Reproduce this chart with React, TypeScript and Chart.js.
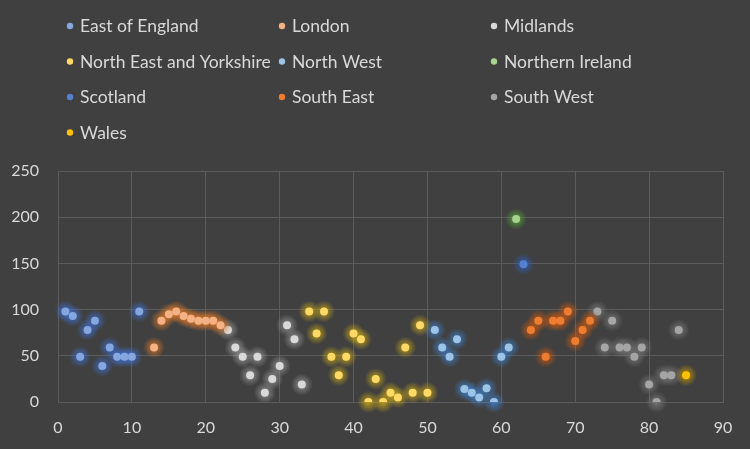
import React, { useEffect, useRef } from "react";
import { Chart, registerables } from "chart.js";

Chart.register(...registerables);

// ---- data ----
const regionNames = [
  "East of England",
  "London",
  "Midlands",
  "North East and Yorkshire",
  "North West",
  "Northern Ireland",
  "Scotland",
  "South East",
  "South West",
  "Wales",
];
const regionStartX = [1, 13, 23, 34, 51, 62, 63, 64, 73, 85];

const eastOfEngland = [98, 93, 49, 78, 88, 39, 59, 49, 49, 49, 98];
const london = [59, 88, 95, 98, 93, 90, 88, 88, 88, 83];
const midlands = [78, 59, 49, 29, 49, 10, 25, 39, 83, 68, 19];
const northEastYorkshire = [98, 74, 98, 49, 29, 49, 74, 68, 0, 25, 0, 10, 5, 59, 10, 83, 10];
const northWest = [78, 59, 49, 68, 14, 10, 5, 15, 0, 49, 59];
const northernIreland = [198];
const scotland = [149];
const southEast = [78, 88, 49, 88, 88, 98, 66, 78, 88];
const southWest = [98, 59, 88, 59, 59, 49, 59, 19, 0, 29, 29, 78];
const wales = [29];

const regionValues = [
  eastOfEngland,
  london,
  midlands,
  northEastYorkshire,
  northWest,
  northernIreland,
  scotland,
  southEast,
  southWest,
  wales,
];

const xTicks = [0, 10, 20, 30, 40, 50, 60, 70, 80, 90];
const yTicks = [0, 50, 100, 150, 200, 250];

// ---- styles ----
const regionColors = [
  "#86a6e0",
  "#f4b183",
  "#d9d9d9",
  "#ffd966",
  "#9dc3e6",
  "#a9d18e",
  "#5580d0",
  "#ed7d31",
  "#a5a5a5",
  "#ffc000",
];
const glowColors = [
  "#3f6fd0",
  "#e07a2a",
  "#9a9a9a",
  "#c8a818",
  "#3f7fc8",
  "#58a838",
  "#2f5fc0",
  "#d05a10",
  "#7a7a7a",
  "#d0a000",
];
const BG = "#404040";
const GRID = "#5c5c5c";
const TEXT = "#d9d9d9";
const FONT = "Lato, 'Liberation Sans', sans-serif";

function hexToRgba(hex: string, a: number) {
  const n = parseInt(hex.slice(1), 16);
  return `rgba(${(n >> 16) & 255},${(n >> 8) & 255},${n & 255},${a})`;
}

const glowPlugin = {
  id: "glow",
  beforeDatasetDraw(chart: any, args: any) {
    const ctx = chart.ctx;
    const meta = chart.getDatasetMeta(args.index);
    const g = glowColors[args.index];
    ctx.save();
    meta.data.forEach((el: any) => {
      const grad = ctx.createRadialGradient(el.x, el.y, 2, el.x, el.y, 11);
      grad.addColorStop(0, hexToRgba(g, 0.75));
      grad.addColorStop(0.45, hexToRgba(g, 0.4));
      grad.addColorStop(1, hexToRgba(g, 0));
      ctx.fillStyle = grad;
      ctx.beginPath();
      ctx.arc(el.x, el.y, 11, 0, Math.PI * 2);
      ctx.fill();
    });
    ctx.restore();
  },
};

const legendPlugin = {
  id: "gridLegend",
  afterDraw(chart: any) {
    const ctx = chart.ctx;
    const colX = [70, 282, 494];
    const rowY = [26, 61.5, 97, 132.5];
    ctx.save();
    ctx.font = `17.5px ${FONT}`;
    ctx.textBaseline = "middle";
    ctx.textAlign = "left";
    chart.data.datasets.forEach((ds: any, i: number) => {
      const cx = colX[i % 3];
      const cy = rowY[Math.floor(i / 3)];
      ctx.fillStyle = ds.backgroundColor;
      ctx.beginPath();
      ctx.arc(cx, cy, 3.2, 0, Math.PI * 2);
      ctx.fill();
      ctx.fillStyle = TEXT;
      ctx.fillText(ds.label, cx + 10, cy + 0.5);
    });
    ctx.restore();
  },
};

export default function App() {
  const canvasRef = useRef<HTMLCanvasElement | null>(null);

  useEffect(() => {
    const canvas = canvasRef.current;
    if (!canvas) return;
    const datasets = regionNames.map((name, i) => ({
      label: name,
      data: regionValues[i].map((v, k) => ({ x: regionStartX[i] + k, y: v })),
      backgroundColor: regionColors[i],
      borderColor: regionColors[i],
      borderWidth: 0,
      pointRadius: 4,
      pointHoverRadius: 4,
      showLine: false,
    }));
    const chart = new Chart(canvas, {
      type: "scatter",
      data: { datasets },
      plugins: [glowPlugin, legendPlugin],
      options: {
        animation: false,
        responsive: false,
        maintainAspectRatio: false,
        devicePixelRatio: 1,
        layout: { padding: { top: 171, right: 27, left: 0, bottom: 0 } },
        plugins: {
          legend: { display: false },
          tooltip: { enabled: false },
        },
        scales: {
          x: {
            type: "linear",
            min: 0,
            max: 90,
            afterBuildTicks: (scale: any) => {
              scale.ticks = xTicks.map((v) => ({ value: v }));
            },
            afterFit: (scale: any) => {
              scale.height = 47;
            },
            grid: { color: GRID, lineWidth: 1, drawTicks: false },
            border: { color: GRID },
            ticks: {
              color: TEXT,
              font: { family: FONT, size: 16 },
              padding: 16,
              maxRotation: 0,
            },
          },
          y: {
            type: "linear",
            min: 0,
            max: 250,
            afterBuildTicks: (scale: any) => {
              scale.ticks = yTicks.map((v) => ({ value: v }));
            },
            afterFit: (scale: any) => {
              scale.width = 58;
            },
            grid: { color: GRID, lineWidth: 1, drawTicks: false },
            border: { color: GRID },
            ticks: {
              color: TEXT,
              font: { family: FONT, size: 16 },
              padding: 19,
            },
          },
        },
      },
    });
    return () => chart.destroy();
  }, []);

  return (
    <div
      style={{
        position: "fixed",
        left: 0,
        top: 0,
        width: 750,
        height: 449,
        background: BG,
      }}
    >
      <canvas
        ref={canvasRef}
        width={750}
        height={449}
        style={{ width: 750, height: 449, display: "block" }}
      />
    </div>
  );
}
